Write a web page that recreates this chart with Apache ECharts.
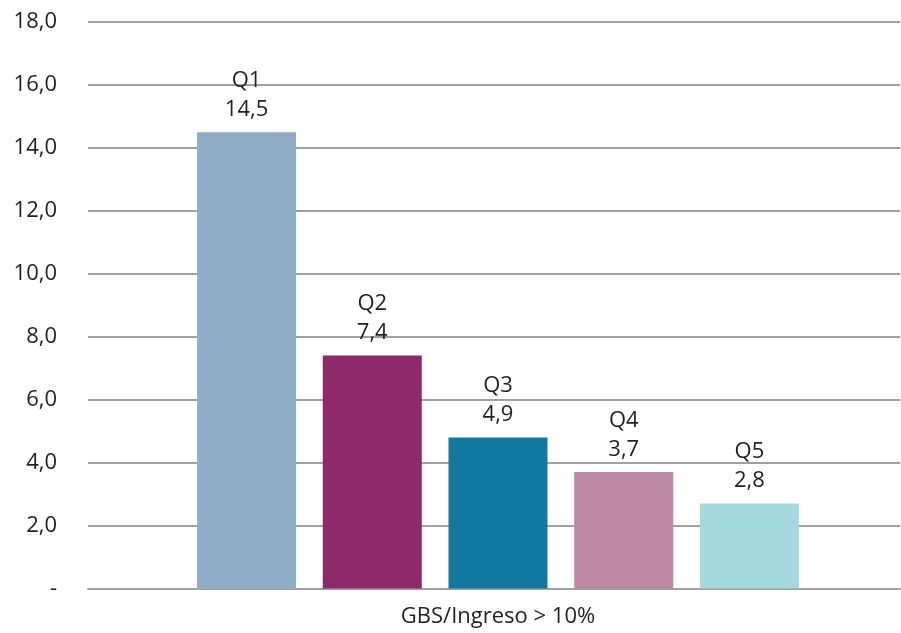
<!DOCTYPE html>
<html>
<head>
<meta charset="utf-8">
<script src="https://cdn.jsdelivr.net/npm/echarts@6/dist/echarts.min.js"></script>
<style>html,body{margin:0;padding:0;background:#fff}#c{width:901px;height:633px}</style>
</head>
<body>
<div id="c"></div>
<script>
var categories = ["GBS/Ingreso > 10%"];
var seriesNames = ["Q1", "Q2", "Q3", "Q4", "Q5"];
var values = [14.5, 7.4, 4.8, 3.7, 2.7];
var valueLabels = ["14,5", "7,4", "4,9", "3,7", "2,8"];
var colors = ["#8FADC4", "#8E2A6B", "#10799D", "#BC8AA4", "#A3D9DB"];
var yTicks = { min: 0, max: 18, interval: 2 };

var FONT = "'Open Sans', 'Noto Sans', sans-serif";
var series = seriesNames.map(function (name, i) {
  return {
    name: name,
    type: 'bar',
    xAxisIndex: 1,
    yAxisIndex: 1,
    data: [values[i]],
    barWidth: 99,
    barGap: '27%',
    itemStyle: { color: colors[i] },
    label: {
      show: true,
      position: 'top',
      distance: 8,
      formatter: name + '\n' + valueLabels[i],
      fontFamily: FONT,
      fontSize: 22,
      lineHeight: 29,
      color: '#231f20'
    }
  };
});

var chart = echarts.init(document.getElementById('c'), null, { renderer: 'canvas' });
chart.setOption({
  animation: false,
  grid: [
    { left: 88, right: 1, top: 22, bottom: 44.5, containLabel: false },
    { left: 96, right: 1, top: 22, bottom: 44.5, containLabel: false }
  ],
  xAxis: [{
    type: 'category',
    gridIndex: 0,
    data: categories,
    axisLine: { show: true, lineStyle: { color: '#a0a0a0', width: 2 } },
    axisTick: { show: false },
    axisLabel: { show: false }
  }, {
    type: 'category',
    gridIndex: 1,
    data: categories,
    axisLine: { show: false },
    axisTick: { show: false },
    axisLabel: { fontFamily: FONT, fontSize: 22, color: '#231f20', margin: 17 }
  }],
  yAxis: [{
    type: 'value',
    gridIndex: 0,
    min: yTicks.min,
    max: yTicks.max,
    interval: yTicks.interval,
    axisLine: { show: false },
    axisTick: { show: false },
    splitLine: { show: true, lineStyle: { color: '#a0a0a0', width: 2 } },
    axisLabel: {
      fontFamily: FONT, fontSize: 22, color: '#231f20', margin: 31,
      formatter: function (v) { return v === 0 ? '-' : v.toFixed(1).replace('.', ','); }
    }
  }, {
    type: 'value',
    gridIndex: 1,
    min: yTicks.min,
    max: yTicks.max,
    interval: yTicks.interval,
    axisLine: { show: false },
    axisTick: { show: false },
    splitLine: { show: false },
    axisLabel: { show: false }
  }],
  series: series
});
</script>
</body>
</html>
